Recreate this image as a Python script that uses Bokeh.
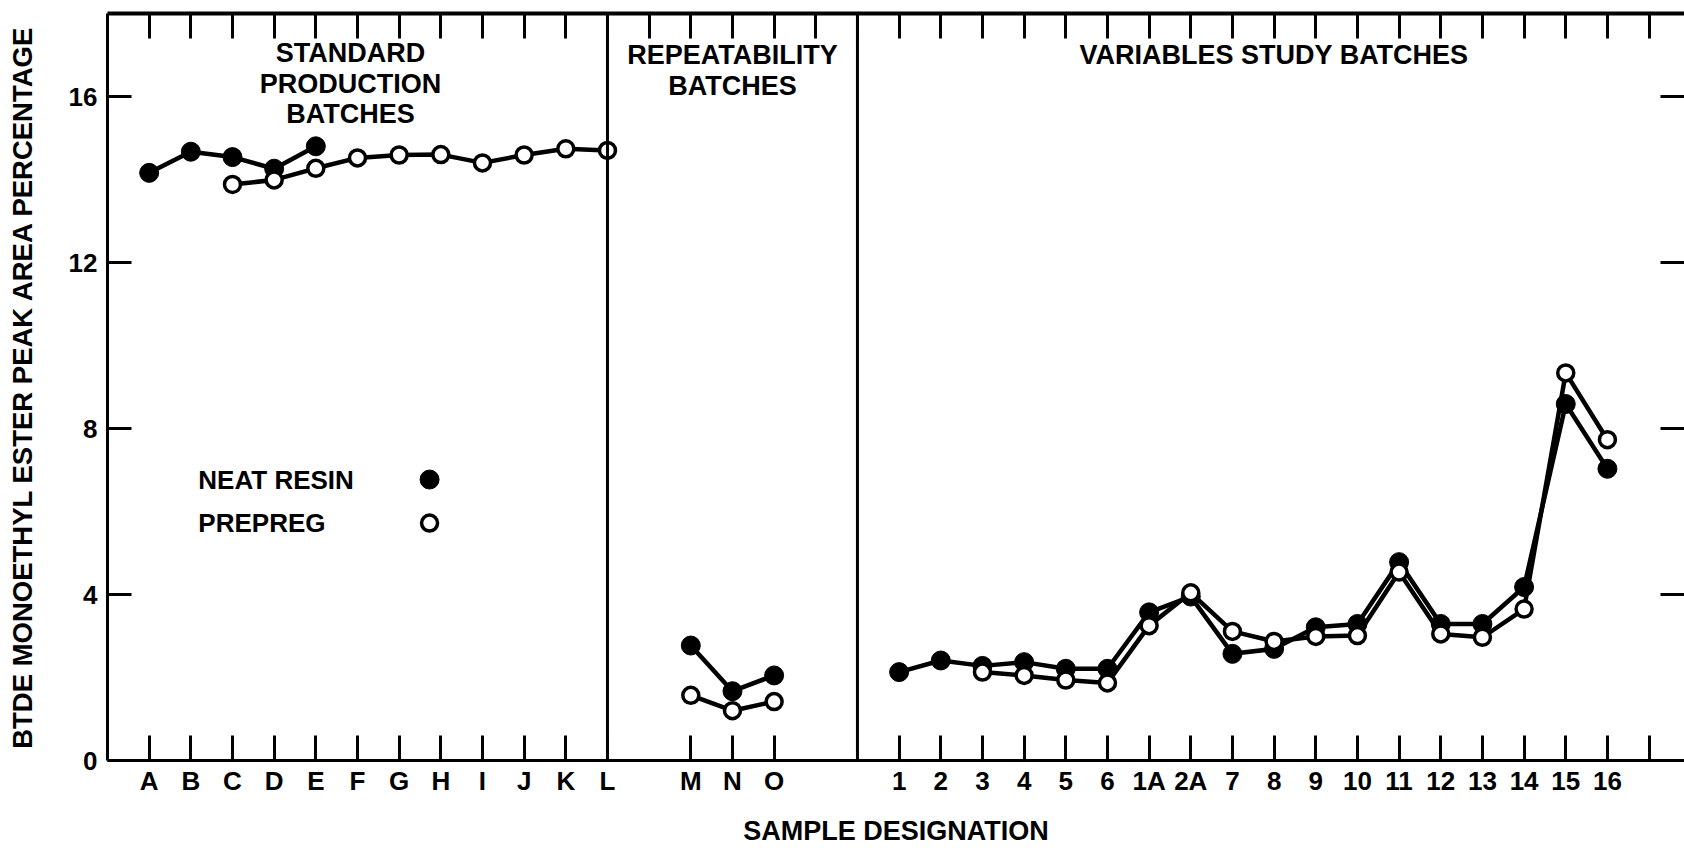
import numpy as np
from bokeh.plotting import figure
from bokeh.models import Range1d, LinearAxis, FixedTicker, Span
from bokeh.embed import file_html
from bokeh.resources import INLINE
from bokeh.core.properties import value

# ---------------- data ----------------
standard_batches = ["A", "B", "C", "D", "E", "F", "G", "H", "I", "J", "K", "L"]
repeatability_batches = ["M", "N", "O"]
variables_batches = ["1", "2", "3", "4", "5", "6", "1A", "2A", "7", "8", "9",
                     "10", "11", "12", "13", "14", "15", "16"]

neat_standard = [14.16, 14.67, 14.54, 14.26, 14.80, None, None, None, None, None, None, None]
prepreg_standard = [None, None, 13.88, 13.99, 14.27, 14.52, 14.59, 14.60, 14.40, 14.59, 14.74, 14.70]

neat_repeat = [2.77, 1.67, 2.05]
prepreg_repeat = [1.57, 1.20, 1.42]

neat_variables = [2.13, 2.41, 2.28, 2.37, 2.21, 2.21, 3.57, 3.95, 2.57, 2.69, 3.21,
                  3.29, 4.78, 3.29, 3.29, 4.18, 8.59, 7.03]
prepreg_variables = [None, None, 2.13, 2.05, 1.94, 1.87, 3.25, 4.04, 3.11, 2.87, 2.99,
                     3.01, 4.54, 3.05, 2.97, 3.65, 9.34, 7.73]

y_ticks = [0, 4, 8, 12, 16]

section_titles = [["STANDARD", "PRODUCTION", "BATCHES"],
                  ["REPEATABILITY", "BATCHES"],
                  ["VARIABLES STUDY BATCHES"]]

# ---------------- layout (section positions on the numeric x scale) ----------------
section_starts = [1, 14, 19]
sections = [standard_batches, repeatability_batches, variables_batches]
dividers = [12, 18]
X_END = 37.85
Y_END = 18
FONT = value("Liberation Sans")


def positions(start, labels):
    return list(range(start, start + len(labels)))


def series(parts):
    xs, ys = [], []
    for start, labels, vals in parts:
        pos = positions(start, labels)
        xs += pos + [np.nan]
        ys += [np.nan if v is None else v for v in vals] + [np.nan]
    return np.array(xs, dtype=float), np.array(ys, dtype=float)


neat_x, neat_y = series([(section_starts[0], standard_batches, neat_standard),
                         (section_starts[1], repeatability_batches, neat_repeat),
                         (section_starts[2], variables_batches, neat_variables)])
pre_x, pre_y = series([(section_starts[0], standard_batches, prepreg_standard),
                       (section_starts[1], repeatability_batches, prepreg_repeat),
                       (section_starts[2], variables_batches, prepreg_variables)])

tick_labels = {}
bottom_ticks = []
for start, labels in zip(section_starts, sections):
    for pos, lab in zip(positions(start, labels), labels):
        tick_labels[pos] = lab
        bottom_ticks.append(pos)
last_tick = int(np.floor(X_END))
bottom_ticks.append(last_tick)
tick_labels[last_tick] = ""
top_ticks = list(range(1, last_tick + 1))

# ---------------- figure ----------------
p = figure(width=1684, height=848, output_backend="svg", toolbar_location=None,
           x_range=Range1d(0, X_END), y_range=Range1d(0, Y_END),
           min_border_left=107, min_border_right=0, min_border_top=13, min_border_bottom=88)
p.outline_line_color = None
p.xgrid.visible = False
p.ygrid.visible = False
p.background_fill_color = "white"
p.border_fill_color = "white"


def style_axis(ax, tick_len=25):
    ax.major_tick_in = tick_len
    ax.major_tick_out = 0
    ax.minor_tick_line_color = None
    ax.axis_line_width = 3
    ax.axis_line_color = "black"
    ax.major_tick_line_width = 3
    ax.major_tick_line_color = "black"
    ax.major_label_text_font = "Liberation Sans"
    ax.major_label_text_font_style = "bold"
    ax.major_label_text_font_size = "26px"
    ax.major_label_text_color = "black"


xa = p.xaxis[0]
style_axis(xa)
xa.ticker = FixedTicker(ticks=bottom_ticks)
xa.major_label_overrides = tick_labels
xa.major_label_standoff = 5
xa.axis_label = "SAMPLE DESIGNATION"
xa.axis_label_text_font = "Liberation Sans"
xa.axis_label_text_font_style = "bold"
xa.axis_label_text_font_size = "27px"
xa.axis_label_text_color = "black"
xa.axis_label_standoff = 17

ya = p.yaxis[0]
style_axis(ya, 24)
ya.ticker = FixedTicker(ticks=y_ticks)
ya.major_label_standoff = 10
ya.axis_label = "BTDE MONOETHYL ESTER PEAK AREA PERCENTAGE"
ya.axis_label_text_font = "Liberation Sans"
ya.axis_label_text_font_style = "bold"
ya.axis_label_text_font_size = "27.5px"
ya.axis_label_text_color = "black"
ya.axis_label_standoff = 28

top = LinearAxis(ticker=FixedTicker(ticks=top_ticks))
style_axis(top)
top.axis_line_width = 4
top.major_label_text_color = None
top.major_label_standoff = 0
p.add_layout(top, "above")

right = LinearAxis(ticker=FixedTicker(ticks=y_ticks[1:]))
style_axis(right, 24)
right.axis_line_color = None
right.major_label_text_color = None
right.major_label_standoff = 0
p.add_layout(right, "right")

for d in dividers:
    p.add_layout(Span(location=d, dimension="height", line_color="black", line_width=3))

# ---------------- data marks ----------------
p.line(neat_x, neat_y, line_color="black", line_width=4.5)
p.scatter(neat_x, neat_y, size=19, fill_color="black", line_color="black", line_width=1)
p.line(pre_x, pre_y, line_color="black", line_width=4.5)
p.scatter(pre_x, pre_y, size=16, fill_color="white", line_color="black", line_width=3.5)

# ---------------- section titles ----------------
title_centers = [5.83, 15.0, 28.0]
title_tops = [17.05, 16.99, 16.99]
line_step = 0.74
tx, ty, tt = [], [], []
for cx, top_y, lines in zip(title_centers, title_tops, section_titles):
    for i, line in enumerate(lines):
        tx.append(cx)
        ty.append(top_y - i * line_step)
        tt.append(line)
p.text(tx, ty, text=tt, text_font=FONT, text_font_style="bold", text_font_size="27px",
       text_align="center", text_baseline="middle", text_color="black")

# ---------------- legend ----------------
legend_names = ["NEAT RESIN", "PREPREG"]
leg_text_x = 2.18
leg_mark_x = 7.73
leg_y = [6.77, 5.72]
p.text([leg_text_x] * 2, leg_y, text=legend_names, text_font=FONT, text_font_style="bold",
       text_font_size="26px", text_align="left", text_baseline="middle", text_color="black")
p.scatter([leg_mark_x], [leg_y[0]], size=19, fill_color="black", line_color="black")
p.scatter([leg_mark_x], [leg_y[1]], size=16, fill_color="white", line_color="black", line_width=3.5)

open("out.html", "w").write(file_html(p, INLINE))
